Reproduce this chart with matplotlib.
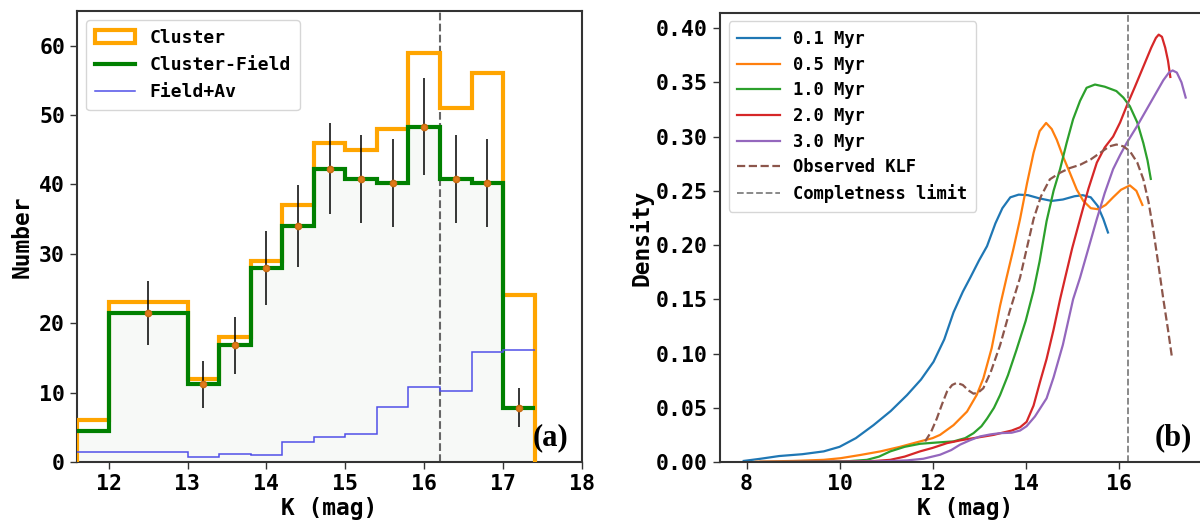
import matplotlib
matplotlib.use("Agg")
import matplotlib.pyplot as plt
from matplotlib.patches import Patch

# ---- panel (a): K-band histograms ----
edges = [11.6, 12.0, 13.0, 13.4, 13.8, 14.2, 14.6, 15.0, 15.4, 15.8, 16.2, 16.6, 17.0, 17.4]
cluster = [6, 23, 12, 18, 29, 37, 46, 45, 48, 59, 51, 56, 24]
cluster_field = [4.5, 21.5, 11.2, 16.8, 28, 34, 42.3, 40.8, 40.2, 48.3, 40.8, 40.2, 7.8]
field_av = [1.4, 1.5, 0.7, 1.2, 1.0, 2.9, 3.6, 4.1, 7.9, 10.8, 10.2, 15.9, 16.2]

err_x = [12.5, 13.2, 13.6, 14.0, 14.4, 14.8, 15.2, 15.6, 16.0, 16.4, 16.8, 17.2]
err_y = [21.5, 11.2, 16.8, 28, 34, 42.3, 40.8, 40.2, 48.3, 40.8, 40.2, 7.8]
err_e = [4.6, 3.4, 4.1, 5.3, 5.9, 6.5, 6.4, 6.3, 7.0, 6.4, 6.3, 2.8]

k_limit = 16.2

# ---- panel (b): model KLF densities ----
k01 = [7.94, 8.3, 8.7, 9.2, 9.66, 10.0, 10.35, 10.73, 11.1, 11.45, 11.75, 12.02, 12.25, 12.45,
       12.65, 12.81, 13.0, 13.17, 13.35, 13.5, 13.67, 13.85, 14.05, 14.3, 14.56, 14.8, 15.05,
       15.23, 15.4, 15.55, 15.67, 15.77]
d01 = [0.001, 0.003, 0.0055, 0.0072, 0.0098, 0.014, 0.022, 0.034, 0.047, 0.0617, 0.076, 0.0924,
       0.113, 0.138, 0.157, 0.170, 0.186, 0.199, 0.220, 0.234, 0.244, 0.2465, 0.246, 0.243,
       0.2407, 0.242, 0.245, 0.246, 0.244, 0.236, 0.224, 0.2116]

k05 = [8.2, 9.0, 9.66, 10.02, 10.45, 10.88, 11.3, 11.73, 12.0, 12.16, 12.45, 12.74, 12.95,
       13.09, 13.27, 13.45, 13.59, 13.74, 13.88, 14.03, 14.17, 14.3, 14.44, 14.56, 14.67, 14.8,
       14.95, 15.1, 15.24, 15.4, 15.56, 15.72, 15.88, 16.05, 16.24, 16.38, 16.51]
d05 = [0.0003, 0.001, 0.002, 0.0035, 0.0065, 0.0098, 0.014, 0.019, 0.022, 0.025, 0.034, 0.0465,
       0.062, 0.077, 0.105, 0.144, 0.170, 0.197, 0.224, 0.257, 0.285, 0.305, 0.3126, 0.307,
       0.297, 0.282, 0.2667, 0.251, 0.2407, 0.234, 0.233, 0.237, 0.244, 0.251, 0.255, 0.250,
       0.237]

k10 = [8.3, 9.5, 10.2, 10.59, 10.85, 11.09, 11.4, 11.73, 12.1, 12.45, 12.7, 12.88, 13.05,
       13.17, 13.32, 13.45, 13.62, 13.8, 14.0, 14.17, 14.3, 14.45, 14.6, 14.74, 14.88, 15.02,
       15.17, 15.31, 15.49, 15.7, 15.95, 16.1, 16.24, 16.4, 16.53, 16.62, 16.69]
d10 = [0.0, 0.0003, 0.0008, 0.002, 0.005, 0.0098, 0.014, 0.0168, 0.018, 0.019, 0.022, 0.0266,
       0.033, 0.040, 0.050, 0.0617, 0.080, 0.103, 0.130, 0.158, 0.185, 0.222, 0.250, 0.270,
       0.294, 0.316, 0.333, 0.345, 0.348, 0.346, 0.342, 0.336, 0.328, 0.313, 0.294, 0.278,
       0.261]

k20 = [8.3, 10.0, 10.7, 11.09, 11.4, 11.73, 12.0, 12.31, 12.6, 12.88, 13.1, 13.31, 13.5, 13.7,
       13.88, 14.02, 14.17, 14.31, 14.45, 14.6, 14.74, 14.85, 15.0, 15.17, 15.35, 15.53, 15.7,
       15.88, 16.03, 16.17, 16.35, 16.53, 16.7, 16.8, 16.86, 16.93, 17.0, 17.06, 17.11]
d20 = [0.0, 0.0003, 0.0008, 0.002, 0.005, 0.0098, 0.013, 0.0174, 0.020, 0.022, 0.0235, 0.025,
       0.027, 0.029, 0.032, 0.037, 0.052, 0.074, 0.095, 0.122, 0.150, 0.170, 0.197, 0.224,
       0.252, 0.276, 0.290, 0.300, 0.313, 0.328, 0.346, 0.3645, 0.382, 0.391, 0.394, 0.392,
       0.382, 0.370, 0.355]

k30 = [8.3, 10.3, 11.0, 11.45, 11.8, 12.16, 12.4, 12.59, 12.8, 13.02, 13.25, 13.45, 13.7,
       13.88, 14.02, 14.2, 14.45, 14.6, 14.8, 15.02, 15.17, 15.35, 15.53, 15.7, 15.88, 16.03,
       16.17, 16.4, 16.6, 16.8, 16.96, 17.08, 17.16, 17.25, 17.35, 17.44]
d30 = [0.0, 0.0003, 0.0008, 0.0015, 0.003, 0.0067, 0.011, 0.016, 0.020, 0.0236, 0.0255,
       0.0266, 0.027, 0.029, 0.033, 0.042, 0.0587, 0.078, 0.108, 0.150, 0.170, 0.197, 0.224,
       0.248, 0.270, 0.283, 0.294, 0.310, 0.325, 0.340, 0.352, 0.359, 0.361, 0.359, 0.350,
       0.336]

k_obs = [11.84, 11.97, 12.09, 12.2, 12.31, 12.42, 12.52, 12.65, 12.77, 12.88, 12.98, 13.09,
         13.25, 13.45, 13.65, 13.88, 14.03, 14.17, 14.33, 14.52, 14.74, 14.95, 15.17, 15.4,
         15.6, 15.8, 15.95, 16.1, 16.24, 16.4, 16.53, 16.64, 16.74, 16.85, 16.96, 17.06, 17.15]
d_obs = [0.019, 0.028, 0.040, 0.053, 0.065, 0.071, 0.073, 0.071, 0.066, 0.063, 0.064, 0.068,
         0.083, 0.1076, 0.138, 0.170, 0.198, 0.224, 0.245, 0.2606, 0.2667, 0.271, 0.274, 0.279,
         0.285, 0.291, 0.2927, 0.291, 0.2866, 0.276, 0.2606, 0.240, 0.215, 0.183, 0.150, 0.122,
         0.095]

ages = ["0.1 Myr", "0.5 Myr", "1.0 Myr", "2.0 Myr", "3.0 Myr"]
colors = ["tab:blue", "tab:orange", "tab:green", "tab:red", "tab:purple"]

plt.rcParams["font.family"] = "DejaVu Sans Mono"
plt.rcParams["font.weight"] = "bold"

fig = plt.figure(figsize=(12, 5.24), dpi=100)
ax1 = fig.add_axes([0.0642, 0.1183, 0.4208, 0.8607])
ax2 = fig.add_axes([0.6, 0.1183, 0.409, 0.857])

# panel (a)
ax1.stairs(cluster_field, edges, fill=True, color="#f7f9f7", zorder=1)
ax1.stairs(cluster, edges, baseline=0, color="orange", lw=3, zorder=3)
ax1.stairs(cluster_field, edges, baseline=None, color="green", lw=3, zorder=4)
ax1.stairs(field_av, edges, baseline=None, color="#5050e8", lw=1.1, zorder=4)
ax1.errorbar(err_x, err_y, yerr=err_e, fmt="o", ms=4.5, mfc="#e07b1a", mec="#c86a10",
             ecolor="black", elinewidth=1.1, capsize=0, zorder=5)
ax1.axvline(k_limit, color="#666666", ls="--", lw=1.5, zorder=2)
ax1.set_xlim(11.6, 18)
ax1.set_ylim(0, 65)
ax1.set_xticks([12, 13, 14, 15, 16, 17, 18])
ax1.set_yticks([0, 10, 20, 30, 40, 50, 60])
ax1.set_xlabel("K (mag)", fontsize=16.5, fontweight="bold", labelpad=2)
ax1.set_ylabel("Number", fontsize=16.5, fontweight="bold", labelpad=4)
handles = [Patch(facecolor="none", edgecolor="orange", lw=3),
           plt.Line2D([], [], color="green", lw=3),
           plt.Line2D([], [], color="#5050e8", lw=1.1)]
ax1.legend(handles, ["Cluster", "Cluster-Field", "Field+Av"], loc="upper left",
           prop={"size": 13, "weight": "bold"}, handlelength=2.2, borderpad=0.5,
           labelspacing=0.5)
ax1.text(0.937, 0.053, "(a)", transform=ax1.transAxes, ha="center", va="center",
         fontsize=22, fontweight="bold", family="Liberation Serif")

# panel (b)
for k, d, lab, c in zip([k01, k05, k10, k20, k30], [d01, d05, d10, d20, d30], ages, colors):
    ax2.plot(k, d, color=c, lw=1.6, label=lab)
ax2.plot(k_obs, d_obs, color="tab:brown", ls="--", lw=1.6, label="Observed KLF")
ax2.axvline(k_limit, color="gray", ls="--", lw=1.3, label="Completness limit")
ax2.set_xlim(7.43, 17.98)
ax2.set_ylim(0, 0.414)
ax2.set_xticks([8, 10, 12, 14, 16])
ax2.set_yticks([0, 0.05, 0.10, 0.15, 0.20, 0.25, 0.30, 0.35, 0.40])
ax2.set_yticklabels(["0.00", "0.05", "0.10", "0.15", "0.20", "0.25", "0.30", "0.35", "0.40"])
ax2.set_xlabel("K (mag)", fontsize=16.5, fontweight="bold", labelpad=2)
ax2.set_ylabel("Density", fontsize=16.5, fontweight="bold", labelpad=2)
ax2.legend(loc="upper left", prop={"size": 12.3, "weight": "bold"}, handlelength=2.5,
           borderpad=0.5, labelspacing=0.45)
ax2.text(0.923, 0.053, "(b)", transform=ax2.transAxes, ha="center", va="center",
         fontsize=22, fontweight="bold", family="Liberation Serif")

for ax in (ax1, ax2):
    ax.tick_params(labelsize=15.5, length=5, width=1, color="#333333")
    for s in ax.spines.values():
        s.set_color("#333333")
        s.set_linewidth(1.5)

fig.savefig("out.png", dpi=100)
